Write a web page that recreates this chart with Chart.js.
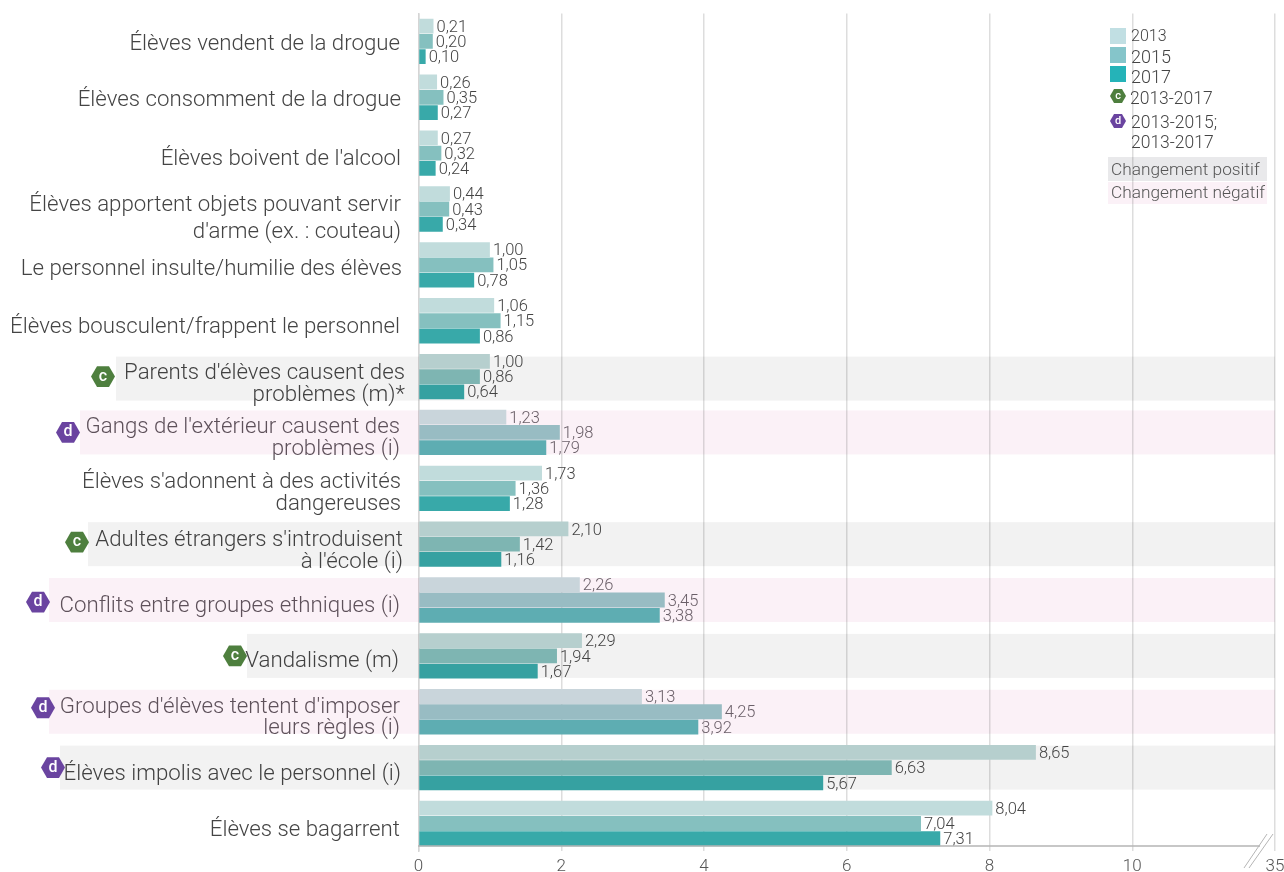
<!DOCTYPE html>
<html lang="fr">
<head>
<meta charset="utf-8">
<title>Problèmes de comportement</title>
<script src="https://cdn.jsdelivr.net/npm/chart.js@4/dist/chart.umd.min.js"></script>
<style>
  body { margin: 0; background: #fff; }
  canvas { display: block; }
</style>
</head>
<body>
<canvas id="chart" width="1284" height="872"></canvas>
<script>
const categories = [
  "Élèves vendent de la drogue",
  "Élèves consomment de la drogue",
  "Élèves boivent de l'alcool",
  ["Élèves apportent objets pouvant servir", "d'arme (ex. : couteau)"],
  "Le personnel insulte/humilie des élèves",
  "Élèves bousculent/frappent le personnel",
  ["Parents d'élèves causent des", "problèmes (m)*"],
  ["Gangs de l'extérieur causent des", "problèmes (i)"],
  ["Élèves s'adonnent à des activités", "dangereuses"],
  ["Adultes étrangers s'introduisent", "à l'école (i)"],
  "Conflits entre groupes ethniques (i)",
  "Vandalisme (m)",
  ["Groupes d'élèves tentent d'imposer", "leurs règles (i)"],
  "Élèves impolis avec le personnel (i)",
  "Élèves se bagarrent",
];
const values2013 = [0.21, 0.26, 0.27, 0.44, 1.00, 1.06, 1.00, 1.23, 1.73, 2.10, 2.26, 2.29, 3.13, 8.65, 8.04];
const values2015 = [0.20, 0.35, 0.32, 0.43, 1.05, 1.15, 0.86, 1.98, 1.36, 1.42, 3.45, 1.94, 4.25, 6.63, 7.04];
const values2017 = [0.10, 0.27, 0.24, 0.34, 0.78, 0.86, 0.64, 1.79, 1.28, 1.16, 3.38, 1.67, 3.92, 5.67, 7.31];

// row highlight and significance badge, by category index
const stripes = { 6: "gray", 7: "pink", 9: "gray", 10: "pink", 11: "gray", 12: "pink", 13: "gray" };
const badges = { 6: "c", 7: "d", 9: "c", 10: "d", 11: "c", 12: "d", 13: "d" };

// layout only: stripe left edges, badge x + y offset, tick label nudges
const stripeLeft = { 6: 116, 7: 80, 9: 88, 10: 49, 11: 247, 12: 49, 13: 60 };
const badgePos = { 6: [103, 0], 7: [68, 0], 9: [77, -2], 10: [38, 2], 11: [235, 0], 12: [43, -4], 13: [53, 0] };
const labelNudge = [
  [-1, 3], [0, 3], [0, 6], [0, 10], [1, 5], [-1, 7], [4, 8], [-1, 6],
  [0, 5], [2, 7], [-1, 6], [-2, 6], [-1, 6], [0, 7], [-1, 7],
];

const barColors = {
  plain: ["#c1dcdc", "#85c0bf", "#38a9a9"],
  gray: ["#b6cfce", "#7eb5b2", "#36a1a1"],
  pink: ["#c9d5db", "#98bcc3", "#5eadb2"],
};
const stripeColors = { gray: "#f2f2f2", pink: "#fbf1f7" };
const badgeColors = { c: "#4e7f3e", d: "#6a44a0" };
const FONT = "Roboto";

function rowColors(idx) {
  return categories.map((_, i) => barColors[stripes[i] || "plain"][idx]);
}

function hexagon(ctx, cx, cy, r, fill, letter, size) {
  ctx.beginPath();
  for (let k = 0; k < 6; k++) {
    const a = (Math.PI / 3) * k;
    const x = cx + r * Math.cos(a);
    const y = cy + r * Math.sin(a);
    if (k === 0) ctx.moveTo(x, y);
    else ctx.lineTo(x, y);
  }
  ctx.closePath();
  ctx.fillStyle = fill;
  ctx.fill();
  ctx.fillStyle = "#fff";
  ctx.font = `500 ${size}px ${FONT}`;
  ctx.textAlign = "center";
  ctx.textBaseline = "middle";
  ctx.fillText(letter, cx, cy);
}

// move some tick labels a few pixels, the source chart placed them by hand
const nudgeLabels = {
  id: "nudgeLabels",
  beforeDraw(chart) {
    chart.scales.y.getLabelItems().forEach((item, i) => {
      item.options.translation[0] += labelNudge[i][0];
      item.options.translation[1] += labelNudge[i][1];
    });
  },
};

// stripes go over the grid but under the bars
const stripePlugin = {
  id: "stripes",
  beforeDatasetsDraw(chart) {
    const { ctx, scales, chartArea } = chart;
    ctx.save();
    ctx.globalCompositeOperation = "multiply";
    Object.keys(stripes).forEach((i) => {
      const y = scales.y.getPixelForValue(+i) + (i === "6" ? 2 : 0);
      ctx.fillStyle = stripeColors[stripes[i]];
      ctx.fillRect(stripeLeft[i], y - 22, chartArea.right - stripeLeft[i], 44);
    });
    ctx.restore();
  },
};

const valueLabels = {
  id: "valueLabels",
  afterDatasetsDraw(chart) {
    const { ctx } = chart;
    ctx.save();
    ctx.font = `300 16.5px ${FONT}`;
    ctx.textAlign = "left";
    ctx.textBaseline = "middle";
    chart.data.datasets.forEach((ds, d) => {
      chart.getDatasetMeta(d).data.forEach((bar, i) => {
        ctx.fillStyle = stripes[i] === "pink" ? "#6a5f68" : "#444";
        ctx.fillText(ds.data[i].toFixed(2).replace(".", ","), bar.x + 3, bar.y + 1.5);
      });
    });
    ctx.restore();
  },
};

const decorations = {
  id: "decorations",
  afterDraw(chart) {
    const { ctx, scales } = chart;
    ctx.save();

    // badges
    Object.keys(badges).forEach((i) => {
      const y = scales.y.getPixelForValue(+i) + badgePos[i][1];
      hexagon(ctx, badgePos[i][0], y, 12, badgeColors[badges[i]], badges[i], 16);
    });

    // horizontal axis line and the scale break before 35
    ctx.strokeStyle = "#b5b5b5";
    ctx.lineWidth = 1.5;
    ctx.beginPath();
    ctx.moveTo(418, 846);
    ctx.lineTo(1260, 846);
    ctx.stroke();
    ctx.lineWidth = 1;
    ctx.beginPath();
    ctx.moveTo(1244, 868);
    ctx.lineTo(1267, 834);
    ctx.moveTo(1249, 868);
    ctx.lineTo(1273, 834);
    ctx.stroke();

    // legend
    const swatches = [["#c1dfe3", 28, "2013", 37, 16], ["#85c5ca", 47, "2015", 58, 18], ["#25b3b8", 66, "2017", 78, 18]];
    ctx.textAlign = "left";
    ctx.textBaseline = "middle";
    swatches.forEach(([color, top, label, mid, size]) => {
      ctx.fillStyle = color;
      ctx.fillRect(1110, top, 16, 16);
      ctx.fillStyle = "#444";
      ctx.font = `300 ${size}px ${FONT}`;
      ctx.fillText(label, 1131, mid);
    });
    hexagon(ctx, 1118, 96, 8, badgeColors.c, "c", 11);
    hexagon(ctx, 1118, 121, 8, badgeColors.d, "d", 11);
    ctx.fillStyle = "#444";
    ctx.font = `300 17.5px ${FONT}`;
    ctx.textAlign = "left";
    ctx.fillText("2013-2017", 1130, 99.5);
    ctx.fillText("2013-2015;", 1131, 123.5);
    ctx.fillText("2013-2017", 1131, 143.5);

    ctx.globalCompositeOperation = "multiply";
    ctx.fillStyle = "#e9e9eb";
    ctx.fillRect(1108, 157, 159, 24);
    ctx.fillStyle = stripeColors.pink;
    ctx.fillRect(1108, 182, 159, 22);
    ctx.globalCompositeOperation = "source-over";
    ctx.fillStyle = "#555";
    ctx.font = `300 17.3px ${FONT}`;
    ctx.fillText("Changement positif", 1111, 171);
    ctx.fillText("Changement négatif", 1111, 194);
    ctx.restore();
  },
};

new Chart(document.getElementById("chart"), {
  type: "bar",
  data: {
    labels: categories,
    datasets: [
      { label: "2013", data: values2013, backgroundColor: rowColors(0) },
      { label: "2015", data: values2015, backgroundColor: rowColors(1) },
      { label: "2017", data: values2017, backgroundColor: rowColors(2) },
    ],
  },
  options: {
    indexAxis: "y",
    responsive: false,
    animation: false,
    layout: { padding: { top: 13.5, right: 9, bottom: 0, left: 0 } },
    datasets: {
      bar: {
        categoryPercentage: 0.82,
        barPercentage: 0.97,
        borderWidth: 0,
      },
    },
    plugins: { legend: { display: false }, tooltip: { enabled: false } },
    scales: {
      x: {
        min: 0,
        max: 12,
        afterFit(scale) {
          scale.height = 20.6;
          scale.paddingLeft = 0;
          scale.paddingRight = 0;
        },
        grid: { color: "#dddddd", lineWidth: 1.5, drawTicks: false },
        border: { display: false },
        ticks: {
          stepSize: 2,
          padding: 5,
          maxRotation: 0,
          color: "#555",
          font: { family: FONT, size: 17, weight: "300" },
          callback: (v) => (v === 12 ? "35" : v),
        },
      },
      y: {
        afterFit(scale) {
          scale.width = 418.5;
          scale.paddingTop = 0;
          scale.paddingBottom = 0;
        },
        grid: { display: false, drawTicks: false },
        border: { display: true, color: "#d5d5d5", width: 1.5 },
        ticks: {
          autoSkip: false,
          padding: 17.5,
          color: (c) => (stripes[c.index] === "pink" ? "#5f555d" : "#444"),
          font: (c) => ({ family: FONT, size: 22.25, weight: "300", lineHeight: c.index === 3 ? 1.2 : 0.97 }),
        },
      },
    },
  },
  plugins: [nudgeLabels, stripePlugin, valueLabels, decorations],
});
</script>
</body>
</html>
